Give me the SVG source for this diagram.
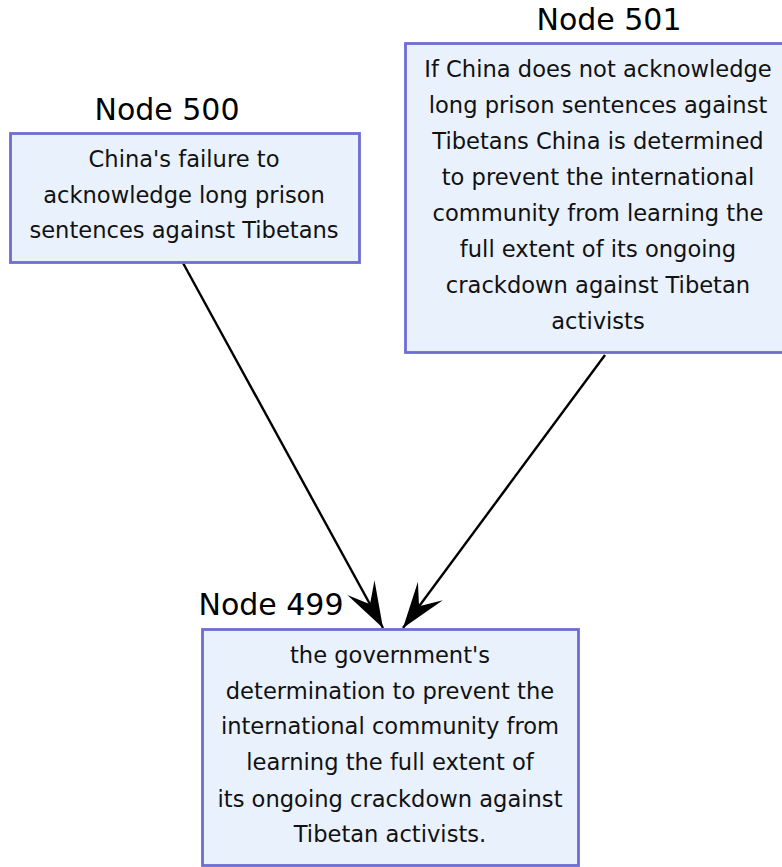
<svg xmlns="http://www.w3.org/2000/svg" width="782" height="867" viewBox="0 0 782 867">
<style>
.box{fill:#e9f1fd;stroke:#6d6dd4;stroke-width:2.8}
.t{font-family:"DejaVu Sans","Verdana",sans-serif;font-size:22.6px;fill:#111;text-anchor:middle}
.lbl{font-family:"DejaVu Sans","Verdana",sans-serif;font-size:30px;fill:#000;text-anchor:middle}
.edge{stroke:#000;stroke-width:2.4;fill:none}
</style>
<defs>
<marker id="ah" markerUnits="userSpaceOnUse" viewBox="-47 -17 48 34" refX="0" refY="0" markerWidth="48" markerHeight="34" orient="auto" overflow="visible">
<path d="M0,0 L-46,-15.5 L-27,0 L-46,15.5 Z" fill="#000"/>
</marker>
</defs>
<g id="edges">
<line class="edge" x1="183" y1="263" x2="383" y2="628" marker-end="url(#ah)"/>
<line class="edge" x1="605" y1="355" x2="403" y2="628" marker-end="url(#ah)"/>
</g>
<g id="node500">
<text class="lbl" x="167" y="120">Node 500</text>
<rect class="box" x="10.5" y="133.5" width="349" height="129"/>
<text class="t" x="184" y="167">China's failure to</text>
<text class="t" x="184" y="203">acknowledge long prison</text>
<text class="t" x="184" y="238">sentences against Tibetans</text>
</g>
<g id="node501">
<text class="lbl" x="609" y="30">Node 501</text>
<rect class="box" x="405.5" y="43.5" width="380" height="309"/>
<text class="t" x="598" y="77">If China does not acknowledge</text>
<text class="t" x="598" y="113">long prison sentences against</text>
<text class="t" x="598" y="149">Tibetans China is determined</text>
<text class="t" x="598" y="185">to prevent the international</text>
<text class="t" x="598" y="221">community from learning the</text>
<text class="t" x="598" y="257">full extent of its ongoing</text>
<text class="t" x="598" y="293">crackdown against Tibetan</text>
<text class="t" x="598" y="329">activists</text>
</g>
<g id="node499">
<text class="lbl" x="271" y="615">Node 499</text>
<rect class="box" x="202.5" y="629.5" width="376" height="236"/>
<text class="t" x="390" y="663">the government's</text>
<text class="t" x="390" y="699">determination to prevent the</text>
<text class="t" x="390" y="734">international community from</text>
<text class="t" x="390" y="770">learning the full extent of</text>
<text class="t" x="390" y="807">its ongoing crackdown against</text>
<text class="t" x="390" y="842">Tibetan activists.</text>
</g>
</svg>
